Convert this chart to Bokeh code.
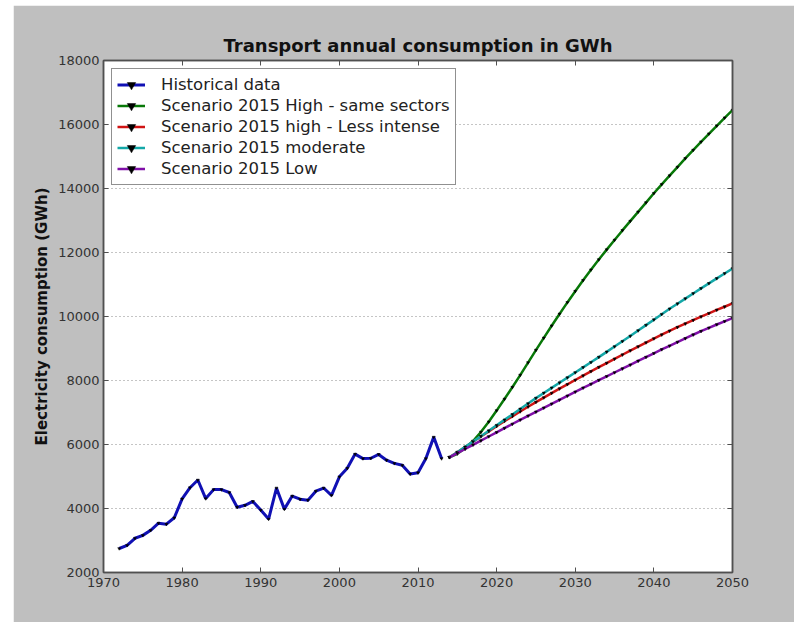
from bokeh.plotting import figure
from bokeh.models import LinearAxis, FixedTicker, Legend, LegendItem
from bokeh.embed import file_html
from bokeh.resources import INLINE

# Historical transport electricity consumption (GWh)
hist_years = list(range(1972, 2014))
hist_values = [2750, 2850, 3070, 3160, 3320, 3540, 3510, 3710, 4300, 4650,
               4890, 4310, 4590, 4590, 4500, 4040, 4100, 4220, 3950, 3670,
               4640, 3980, 4390, 4290, 4260, 4540, 4640, 4410, 4990, 5260,
               5700, 5560, 5570, 5690, 5510, 5410, 5350, 5080, 5120, 5560,
               6230, 5560]

# Scenario projections 2014-2050 (GWh)
scen_years = list(range(2014, 2051))
high_same = [5600, 5710, 5880, 6110, 6390, 6710, 7060, 7420, 7790, 8170,
             8560, 8950, 9330, 9710, 10080, 10440, 10790, 11130, 11460, 11780,
             12090, 12390, 12690, 12980, 13270, 13560, 13850, 14130, 14400, 14670,
             14940, 15200, 15460, 15710, 15960, 16210, 16450]
high_less = [5600, 5760, 5920, 6085, 6250, 6410, 6570, 6730, 6880, 7030,
             7180, 7325, 7465, 7605, 7745, 7880, 8015, 8150, 8285, 8415,
             8545, 8675, 8805, 8935, 9060, 9185, 9310, 9430, 9550, 9665,
             9775, 9885, 9995, 10100, 10205, 10305, 10410]
moderate = [5600, 5760, 5925, 6090, 6260, 6430, 6600, 6770, 6940, 7110,
            7280, 7450, 7610, 7770, 7930, 8090, 8250, 8410, 8570, 8730,
            8895, 9060, 9225, 9390, 9560, 9730, 9900, 10070, 10240, 10400,
            10560, 10720, 10880, 11035, 11190, 11345, 11500]
low = [5600, 5730, 5860, 5990, 6120, 6250, 6380, 6510, 6640, 6770,
       6895, 7020, 7145, 7270, 7395, 7520, 7645, 7770, 7890, 8010,
       8130, 8250, 8370, 8490, 8610, 8730, 8850, 8970, 9085, 9200,
       9315, 9430, 9540, 9645, 9750, 9850, 9950]

series_names = ["Historical data",
                "Scenario 2015 High - same sectors",
                "Scenario 2015 high - Less intense",
                "Scenario 2015 moderate",
                "Scenario 2015 Low"]
series_colors = ["#1010b4", "#087808", "#d01414", "#14a8a8", "#8010a8"]

x_ticks = [1970, 1980, 1990, 2000, 2010, 2020, 2030, 2040, 2050]
y_ticks = [2000, 4000, 6000, 8000, 10000, 12000, 14000, 16000, 18000]

FONT = "DejaVu Sans"
SPINE = "#505050"

p = figure(width=781, height=617,
           x_range=(1970, 2050), y_range=(2000, 18000),
           output_backend="svg", toolbar_location=None,
           min_border_left=90, min_border_right=62,
           min_border_top=55, min_border_bottom=50,
           background_fill_color="white", border_fill_color="#bfbfbf",
           title="Transport annual consumption in GWh")
p.margin = (5, 0, 0, 13)

p.title.align = "center"
p.title.text_font = FONT
p.title.text_font_size = "18px"
p.title.text_font_style = "bold"
p.title.text_color = "#111111"

p.outline_line_color = SPINE
p.outline_line_width = 1.5
p.outline_line_alpha = 1.0

# grid: dotted horizontal lines only
p.xgrid.grid_line_color = None
p.ygrid.ticker = FixedTicker(ticks=y_ticks)
p.ygrid.grid_line_color = "#8a8a8a"
p.ygrid.grid_line_dash = "1 3"
p.ygrid.grid_line_width = 1

def style_axis(ax, ticks, show_labels):
    ax.ticker = FixedTicker(ticks=ticks)
    ax.axis_line_color = SPINE
    ax.axis_line_width = 1.5
    ax.major_tick_in = 5
    ax.major_tick_out = 0
    ax.major_tick_line_color = SPINE
    ax.major_tick_line_width = 1
    ax.minor_tick_line_color = None
    ax.major_label_text_font = FONT
    if show_labels:
        ax.major_label_text_font_size = "13px"
        ax.major_label_text_color = "#333333"
    else:
        # tick marks only on the top and right spines
        ax.major_label_text_color = None
        ax.major_label_text_font_size = "1px"
        ax.major_label_standoff = 0

style_axis(p.xaxis[0], x_ticks, True)
style_axis(p.yaxis[0], y_ticks, True)
p.xaxis[0].major_label_standoff = 5
p.yaxis[0].major_label_standoff = 4
p.yaxis[0].axis_label = "Electricity consumption (GWh)"
p.yaxis[0].axis_label_text_font = FONT
p.yaxis[0].axis_label_text_font_size = "15px"
p.yaxis[0].axis_label_text_font_style = "bold"
p.yaxis[0].axis_label_text_color = "#111111"
p.yaxis[0].axis_label_standoff = 4

top_axis = LinearAxis()
style_axis(top_axis, x_ticks, False)
p.add_layout(top_axis, "above")
right_axis = LinearAxis()
style_axis(right_axis, y_ticks, False)
p.add_layout(right_axis, "right")

all_series = [(hist_years, hist_values)] + [(scen_years, v) for v in
                                            (high_same, high_less, moderate, low)]

items = []
for (xs, ys), name, color in zip(all_series, series_names, series_colors):
    width = 3 if name == "Historical data" else 2.5
    ln = p.line(xs, ys, line_color=color, line_width=width)
    mk = p.scatter(xs, ys, marker="inverted_triangle", size=3,
                   fill_color="black", line_color="black", line_width=0.5)
    items.append(LegendItem(label=name, renderers=[ln, mk]))

legend = Legend(items=items, location="top_left")
legend.margin = 8
legend.padding = 5
legend.spacing = 0
legend.label_text_font = FONT
legend.label_text_font_size = "16.5px"
legend.label_text_color = "#222222"
legend.label_height = 21
legend.glyph_height = 21
legend.glyph_width = 28
legend.label_standoff = 16
legend.border_line_color = "#222222"
legend.border_line_width = 1.5
legend.background_fill_color = "white"
legend.background_fill_alpha = 1.0
p.add_layout(legend, "center")

open("out.html", "w").write(file_html(p, INLINE))
